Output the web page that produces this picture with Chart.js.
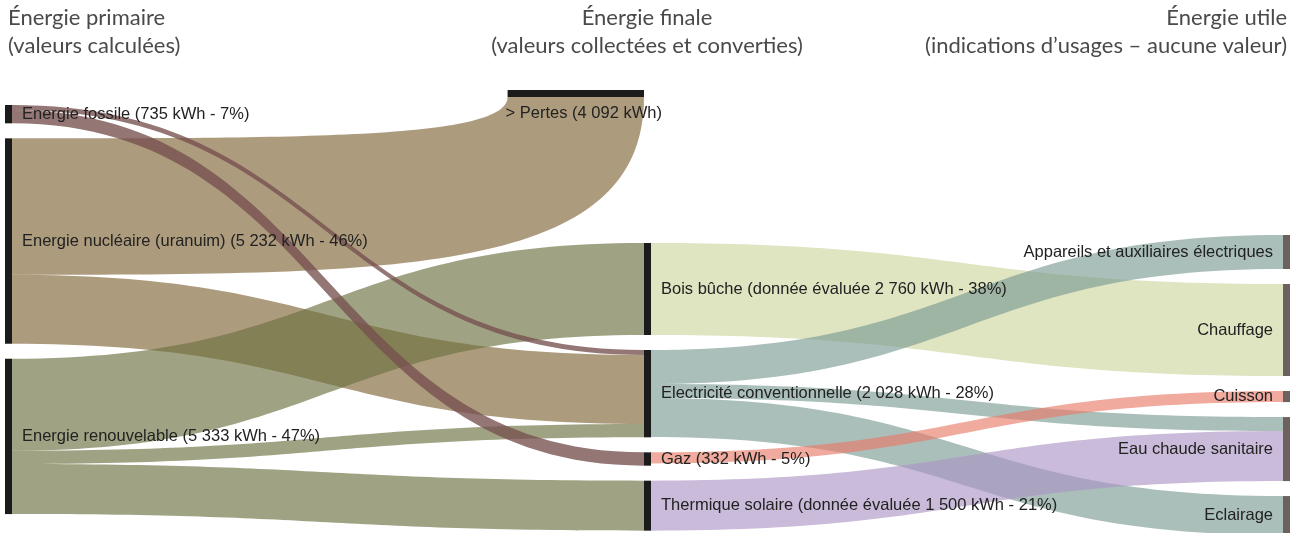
<!DOCTYPE html>
<html>
<head>
<meta charset="utf-8">
<script src="https://cdn.jsdelivr.net/npm/chart.js@4.4.0/dist/chart.umd.min.js"></script>
<style>
  html, body { margin: 0; padding: 0; background: #fff; }
  #wrap { width: 1302px; height: 533px; }
</style>
</head>
<body>
<div id="wrap"><canvas id="sankey" width="1302" height="533"></canvas></div>
<script>
// Titres des colonnes
const columnTitles = [
    ['Énergie primaire', '(valeurs calculées)'],
    ['Énergie finale', '(valeurs collectées et converties)'],
    ['Énergie utile', '(indications d’usages – aucune valeur)']
];

// Noeuds
const nodeIds = ['fossile', 'nucleaire', 'renouvelable', 'pertes', 'bois', 'elec', 'gaz', 'thermique',
    'appareils', 'chauffage', 'cuisson', 'eau', 'eclairage'];
const nodeLabels = [
    'Energie fossile (735 kWh - 7%)',
    'Energie nucléaire (uranuim) (5 232 kWh - 46%)',
    'Energie renouvelable (5 333 kWh - 47%)',
    '> Pertes (4 092 kWh)',
    'Bois bûche (donnée évaluée 2 760 kWh - 38%)',
    'Electricité conventionnelle (2 028 kWh - 28%)',
    'Gaz (332 kWh - 5%)',
    'Thermique solaire (donnée évaluée 1 500 kWh - 21%)',
    'Appareils et auxiliaires électriques',
    'Chauffage',
    'Cuisson',
    'Eau chaude sanitaire',
    'Eclairage'
];
const nodeColumns = [0, 0, 0, 1, 1, 1, 1, 1, 2, 2, 2, 2, 2];

// Flux (kWh, estimés d'après la largeur des bandes)
const flowFrom = ['fossile', 'fossile', 'nucleaire', 'nucleaire', 'renouvelable', 'renouvelable', 'renouvelable',
    'bois', 'elec', 'elec', 'elec', 'gaz', 'thermique'];
const flowTo = ['elec', 'gaz', 'pertes', 'elec', 'bois', 'elec', 'thermique',
    'chauffage', 'appareils', 'eau', 'eclairage', 'cuisson', 'eau'];
const flowValues = [150, 400, 4092, 2070, 2760, 400, 1500, 2760, 1020, 420, 1170, 332, 1500];

// Mise en page et styles
const columnStart = [450, 4590, 4350];   // kWh depuis le haut de l'axe
const nodeGap = 450;
const nodeWidth = 7;
const horizontalNodes = ['pertes'];
const drawOnTop = ['fossile'];
const flowColors = {
    fossile: 'rgba(118, 80, 78, 0.78)',
    nucleaire: 'rgba(129, 101, 55, 0.65)',
    renouvelable: 'rgba(109, 114, 64, 0.65)',
    bois: 'rgba(206, 213, 160, 0.65)',
    elec: 'rgba(124, 157, 149, 0.65)',
    gaz: 'rgba(232, 124, 106, 0.65)',
    thermique: 'rgba(172, 150, 197, 0.65)'
};
const nodeColor = ['#1b1b1b', '#1b1b1b', '#6b625d'];
const labelFont = '16.5px "Liberation Sans", Arial, sans-serif';
const titleFont = '22px Lato, "Open Sans", sans-serif';

// Calcul de la position des noeuds (en kWh sur l'axe y)
function buildLayout() {
    const nodes = {};
    nodeIds.forEach((id, i) => {
        nodes[id] = { id: id, label: nodeLabels[i], col: nodeColumns[i], inSum: 0, outSum: 0, inOff: 0, outOff: 0,
            horizontal: horizontalNodes.includes(id) };
    });
    flowValues.forEach((v, i) => {
        nodes[flowFrom[i]].outSum += v;
        nodes[flowTo[i]].inSum += v;
    });
    const cursor = columnStart.slice();
    nodeIds.forEach(id => {
        const n = nodes[id];
        n.size = Math.max(n.inSum, n.outSum);
        if (n.horizontal) {
            n.y0 = 0;
            return;
        }
        n.y0 = cursor[n.col];
        cursor[n.col] += n.size + nodeGap;
    });
    return nodes;
}

const layout = buildLayout();

const sankeyPlugin = {
    id: 'sankey',
    afterDatasetsDraw(chart) {
        const ctx = chart.ctx;
        const xs = chart.scales.x;
        const ys = chart.scales.y;
        const pxPerKwh = (ys.getPixelForValue(1000) - ys.getPixelForValue(0)) / 1000;

        Object.values(layout).forEach(n => { n.inOff = 0; n.outOff = 0; });

        // Géométrie des bandes
        const ribbons = flowValues.map((v, i) => {
            const s = layout[flowFrom[i]];
            const t = layout[flowTo[i]];
            const x0 = xs.getPixelForValue(s.col) + nodeWidth;
            const s0 = ys.getPixelForValue(s.y0 + s.outOff);
            const s1 = ys.getPixelForValue(s.y0 + s.outOff + v);
            s.outOff += v;
            const path = new Path2D();
            if (t.horizontal) {
                const xR = xs.getPixelForValue(t.col);
                const xL = xR - t.size * pxPerKwh;
                const barBottom = ys.getPixelForValue(t.y0) + nodeWidth;
                const fL = xL + t.inOff * pxPerKwh;
                const fR = fL + v * pxPerKwh;
                path.moveTo(x0, s0);
                path.bezierCurveTo(x0 + (fL - x0) * 0.6, s0, fL, s0, fL, barBottom);
                path.lineTo(fR, barBottom);
                path.bezierCurveTo(fR, s1, x0 + (fR - x0) * 0.61, s1, x0, s1);
            } else {
                const x1 = xs.getPixelForValue(t.col);
                const t0 = ys.getPixelForValue(t.y0 + t.inOff);
                const t1 = ys.getPixelForValue(t.y0 + t.inOff + v);
                const xm = (x0 + x1) / 2;
                path.moveTo(x0, s0);
                path.bezierCurveTo(xm, s0, xm, t0, x1, t0);
                path.lineTo(x1, t1);
                path.bezierCurveTo(xm, t1, xm, s1, x0, s1);
            }
            path.closePath();
            t.inOff += v;
            return { path: path, from: flowFrom[i], top: drawOnTop.includes(flowFrom[i]) };
        });

        ctx.save();
        ribbons.filter(r => !r.top).concat(ribbons.filter(r => r.top)).forEach(r => {
            ctx.fillStyle = flowColors[r.from];
            ctx.fill(r.path);
        });

        // Noeuds
        Object.values(layout).forEach(n => {
            ctx.fillStyle = nodeColor[n.col];
            const x = xs.getPixelForValue(n.col);
            const y = ys.getPixelForValue(n.y0);
            if (n.horizontal) {
                const w = n.size * pxPerKwh;
                ctx.fillRect(x - w, y, w, nodeWidth);
            } else {
                ctx.fillRect(x, y, nodeWidth, n.size * pxPerKwh);
            }
        });

        // Etiquettes
        ctx.font = labelFont;
        ctx.fillStyle = '#222222';
        ctx.textBaseline = 'middle';
        Object.values(layout).forEach(n => {
            const x = xs.getPixelForValue(n.col);
            if (n.horizontal) {
                ctx.textAlign = 'left';
                ctx.fillText(n.label, x - n.size * pxPerKwh - 2, ys.getPixelForValue(n.y0) + nodeWidth + 16);
                return;
            }
            const yc = ys.getPixelForValue(n.y0 + n.size / 2);
            if (n.col === 2) {
                ctx.textAlign = 'right';
                ctx.fillText(n.label, x - 10, yc);
            } else {
                ctx.textAlign = 'left';
                ctx.fillText(n.label, x + nodeWidth + 10, yc);
            }
        });

        // Titres des colonnes
        ctx.font = titleFont;
        ctx.fillStyle = '#4a4a4a';
        columnTitles.forEach((lines, c) => {
            const x = xs.getPixelForValue(c);
            let tx;
            if (c === 0) { ctx.textAlign = 'left'; tx = x + 3; }
            else if (c === 1) { ctx.textAlign = 'center'; tx = x + 3; }
            else { ctx.textAlign = 'right'; tx = x + nodeWidth - 3; }
            lines.forEach((line, k) => ctx.fillText(line, tx, 18 + k * 28));
        });
        ctx.restore();
    }
};

new Chart(document.getElementById('sankey'), {
    type: 'scatter',
    data: { datasets: [] },
    options: {
        responsive: false,
        animation: false,
        devicePixelRatio: 1,
        layout: { padding: { left: 5, right: 19, top: 90, bottom: 0 } },
        plugins: { legend: { display: false }, tooltip: { enabled: false } },
        scales: {
            x: { type: 'linear', min: 0, max: 2, display: false },
            y: { type: 'linear', min: 0, max: 13290, reverse: true, display: false }
        }
    },
    plugins: [sankeyPlugin]
});
</script>
</body>
</html>
